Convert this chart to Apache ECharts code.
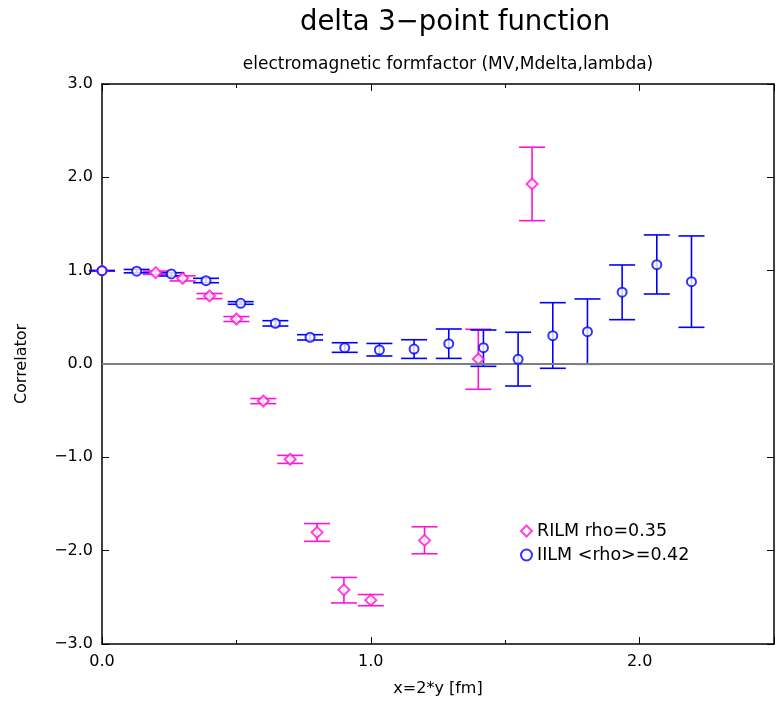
<!DOCTYPE html>
<html><head><meta charset="utf-8">
<script src="https://cdn.jsdelivr.net/npm/echarts@6/dist/echarts.min.js"></script>
<style>html,body{margin:0;padding:0;background:#fff}#c{width:777px;height:704px}</style>
</head><body><div id="c"></div>
<script>
// RILM rho=0.35
const rilmX  = [0, 0.2, 0.3, 0.4, 0.5, 0.6, 0.7, 0.8, 0.9, 1.0, 1.2, 1.4, 1.6];
const rilmY  = [1.0, 0.979, 0.918, 0.729, 0.482, -0.397, -1.021, -1.804, -2.42, -2.53, -1.89, 0.054, 1.929];
const rilmLo = [1.0, 0.96, 0.89, 0.70, 0.455, -0.425, -1.065, -1.90, -2.56, -2.59, -2.033, -0.271, 1.536];
const rilmHi = [1.0, 0.995, 0.945, 0.755, 0.508, -0.37, -0.979, -1.71, -2.287, -2.47, -1.744, 0.372, 2.323];
// IILM <rho>=0.42
const iilmX  = [0, 0.129, 0.258, 0.387, 0.516, 0.645, 0.774, 0.903, 1.032, 1.161, 1.29, 1.419, 1.548, 1.677, 1.806, 1.935, 2.064, 2.193];
const iilmY  = [1.0, 0.995, 0.965, 0.893, 0.65, 0.436, 0.286, 0.175, 0.15, 0.16, 0.218, 0.175, 0.05, 0.303, 0.346, 0.769, 1.064, 0.882];
const iilmLo = [1.0, 0.977, 0.943, 0.871, 0.64, 0.407, 0.257, 0.125, 0.086, 0.06, 0.06, -0.025, -0.236, -0.046, -0.003, 0.475, 0.75, 0.393];
const iilmHi = [1.0, 1.013, 0.978, 0.918, 0.668, 0.464, 0.314, 0.228, 0.22, 0.26, 0.375, 0.364, 0.34, 0.657, 0.697, 1.061, 1.383, 1.372];

const xTickLabels = ['0.0', '1.0', '2.0'];
const yTickLabels = ['\u22123.0', '\u22122.0', '\u22121.0', '0.0', '1.0', '2.0', '3.0'];

const PINK = '#ff14d2';
const BLUE = '#0000ff';
const FONT = 'DejaVu Sans';

function errRender(color) {
  return function (params, api) {
    const x = api.value(0), lo = api.value(1), hi = api.value(2);
    const a = api.coord([x, lo]), b = api.coord([x, hi]);
    const w = 13;
    const style = { stroke: color, lineWidth: 1.6 };
    return { type: 'group', children: [
      { type: 'line', shape: { x1: a[0], y1: a[1], x2: b[0], y2: b[1] }, style: style },
      { type: 'line', shape: { x1: a[0] - w, y1: a[1], x2: a[0] + w, y2: a[1] }, style: style },
      { type: 'line', shape: { x1: b[0] - w, y1: b[1], x2: b[0] + w, y2: b[1] }, style: style }
    ]};
  };
}

const chart = echarts.init(document.getElementById('c'), null, { renderer: 'canvas' });
const axisLine = { show: true, onZero: false, lineStyle: { color: '#000', width: 1.5 } };
const xTick = { show: true, inside: true, length: 7, lineStyle: { color: '#000', width: 1 } };
const xMinor = { show: true, splitNumber: 2, length: 4, lineStyle: { color: '#000', width: 1 } };
chart.setOption({
  animation: false,
  backgroundColor: '#fff',
  textStyle: { fontFamily: FONT },
  title: [
    { text: 'delta 3\u2212point function', left: 450, top: 4, textAlign: 'center',
      textStyle: { fontFamily: FONT, fontSize: 27.5, fontWeight: 'normal', color: '#000' } },
    { text: 'electromagnetic formfactor (MV,Mdelta,lambda)', left: 443, top: 51, textAlign: 'center',
      textStyle: { fontFamily: FONT, fontSize: 17, fontWeight: 'normal', color: '#000' } }
  ],
  grid: { left: 102, right: 1, top: 84, bottom: 60, containLabel: false },
  legend: {
    orient: 'vertical', left: 515, top: 517, itemWidth: 11, itemHeight: 11, itemGap: 6,
    textStyle: { fontFamily: FONT, fontSize: 17.5, color: '#000' },
    data: [
      { name: 'RILM rho=0.35', icon: 'emptyDiamond', itemStyle: { color: PINK, borderColor: PINK, borderWidth: 2 } },
      { name: 'IILM <rho>=0.42', icon: 'emptyCircle', itemStyle: { color: BLUE, borderColor: BLUE, borderWidth: 2 } }
    ]
  },
  xAxis: [
    {
      type: 'value', position: 'bottom', min: 0, max: 2.5, interval: 1,
      axisLine: axisLine, axisTick: xTick, minorTick: xMinor, splitLine: { show: false }, minorSplitLine: { show: false },
      name: 'x=2*y [fm]', nameLocation: 'middle', nameGap: 37,
      nameTextStyle: { fontFamily: FONT, fontSize: 16, color: '#000' },
      axisLabel: { show: true, margin: 10, fontFamily: FONT, fontSize: 16, color: '#000',
        formatter: function (v) { return xTickLabels[Math.round(v)] || ''; } }
    },
    {
      type: 'value', position: 'top', min: 0, max: 2.5, interval: 1,
      axisLine: axisLine, axisTick: xTick, minorTick: xMinor, splitLine: { show: false }, minorSplitLine: { show: false },
      axisLabel: { show: false }
    }
  ],
  yAxis: [
    {
      type: 'value', position: 'left', min: -3, max: 3, interval: 1,
      axisLine: axisLine, axisTick: xTick, splitLine: { show: false },
      name: 'Correlator', nameLocation: 'middle', nameGap: 72, nameRotate: 90,
      nameTextStyle: { fontFamily: FONT, fontSize: 16, color: '#000' },
      axisLabel: { show: true, margin: 9, fontFamily: FONT, fontSize: 16, color: '#000',
        formatter: function (v) { return yTickLabels[Math.round(v) + 3] || ''; } }
    },
    {
      type: 'value', position: 'right', min: -3, max: 3, interval: 1,
      axisLine: axisLine, axisTick: xTick, splitLine: { show: false },
      axisLabel: { show: false }
    }
  ],
  series: [
    { type: 'custom', name: 'rilmErr', renderItem: errRender(PINK), clip: false,
      encode: { x: 0, y: [1, 2] }, z: 2,
      data: rilmX.map((x, i) => [x, rilmLo[i], rilmHi[i]]) },
    { type: 'custom', name: 'iilmErr', renderItem: errRender(BLUE), clip: false,
      encode: { x: 0, y: [1, 2] }, z: 2,
      data: iilmX.map((x, i) => [x, iilmLo[i], iilmHi[i]]) },
    { type: 'scatter', name: 'RILM rho=0.35', symbol: 'emptyDiamond', symbolSize: 11, z: 4,
      itemStyle: { color: PINK, borderColor: PINK, borderWidth: 2 },
      data: rilmX.map((x, i) => [x, rilmY[i]]),
      markLine: { silent: true, symbol: 'none', label: { show: false },
        lineStyle: { color: '#7f7f7f', width: 2, type: 'solid' }, data: [{ yAxis: 0 }] } },
    { type: 'scatter', name: 'IILM <rho>=0.42', symbol: 'emptyCircle', symbolSize: 9, z: 5,
      itemStyle: { color: BLUE, borderColor: BLUE, borderWidth: 2 },
      data: iilmX.map((x, i) => [x, iilmY[i]]) }
  ]
});
</script>
</body></html>
